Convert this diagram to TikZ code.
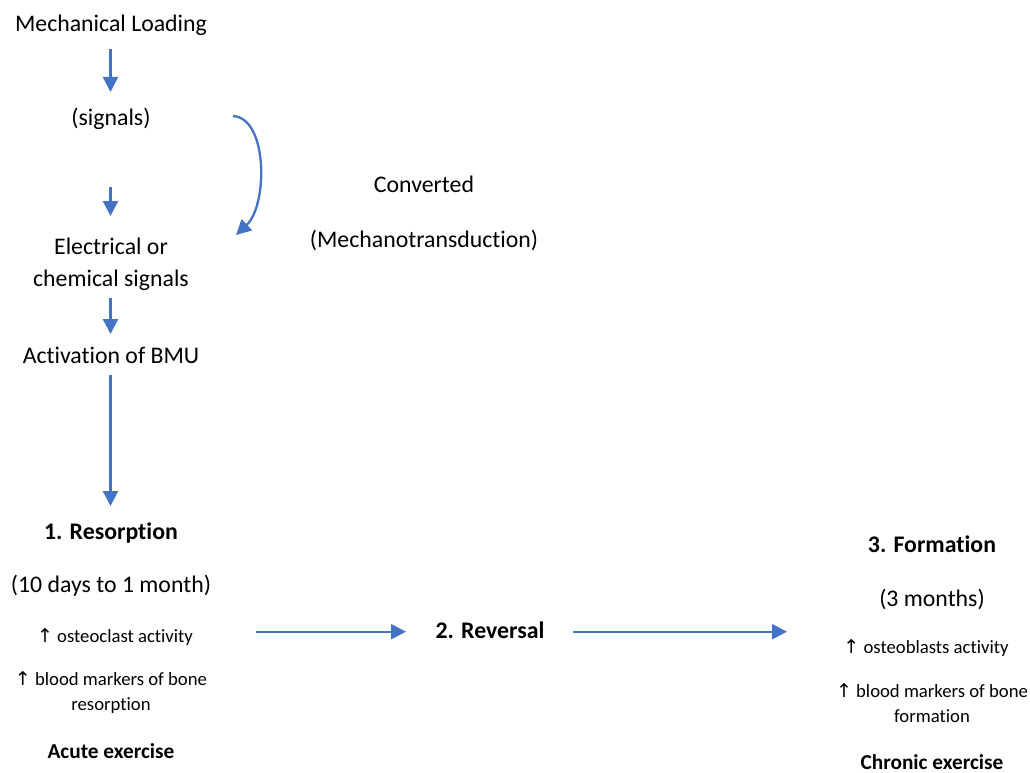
\documentclass[tikz,border=0pt]{standalone}
\usepackage{fontspec}
\setmainfont[Ligatures={NoCommon,NoRequired,NoContextual}]{Carlito}
\newfontfamily\symf{DejaVu Sans}
\usetikzlibrary{arrows.meta,calc}
\definecolor{arrowblue}{HTML}{4472C4}
\newcommand{\upar}{{\symf\fontsize{19}{19}\selectfont ↑}}
\tikzset{
  x=1pt, y=-1pt,
  txt/.style={inner sep=0pt, anchor=base, align=center, font=\fontsize{23.8}{32}\selectfont},
  bigbold/.style={txt, font=\fontsize{23.8}{32}\selectfont\bfseries},
  small/.style={txt, font=\fontsize{18.7}{25}\selectfont},
  smallbold/.style={txt, font=\fontsize{21.3}{26}\selectfont\bfseries},
  arr/.style={draw=arrowblue, line width=2.3pt, -{Triangle[length=15pt,width=15pt]}}
}
\begin{document}
\begin{tikzpicture}
\useasboundingbox (0,0) rectangle (1030,773);
% left column (multi-line nodes are anchored at their last line)
\node[txt] (ml) at (111,32) {Mechanical Loading};
\node[txt] (sig) at (111,126) {(signals)};
\node[txt] (elec) at (111,286) {Electrical or\\chemical signals};
\node[txt] (act) at (111,363) {Activation of BMU};
\node[bigbold] (res) at (111,539) {1. Resorption};
\node[txt] (rdur) at (111,592) {(10 days to 1 month)};
\node[small] (ost) at (115,642) {\upar{} osteoclast activity};
\node[small] (rbm) at (111,710) {\upar{} blood markers of bone\\resorption};
\node[smallbold] (acute) at (111,758) {Acute exercise};
% converted
\node[txt] (conv) at (424,192) {Converted};
\node[txt] (mech) at (424,247) {(Mechanotransduction)};
% reversal
\node[bigbold] (rev) at (490,638) {2. Reversal};
% formation column
\node[bigbold] (form) at (932,552) {3. Formation};
\node[txt] (fdur) at (932,606) {(3 months)};
\node[small] (fost) at (926,653) {\upar{} osteoblasts activity};
\node[small] (fbm) at (932,722) {\upar{} blood markers of bone\\formation};
\node[smallbold] (chronic) at (932,769) {Chronic exercise};
% vertical arrows
\draw[arr] ($(ml.base)+(-0.5,17)$) -- ($(sig.base)+(-0.5,-34)$);
\draw[arr] ($(sig.base)+(-0.5,61)$) -- ($(elec.base)+(-0.5,-70)$);
\draw[arr] ($(elec.base)+(-0.5,12)$) -- ($(act.base)+(-0.5,-29)$);
\draw[arr] ($(act.base)+(-0.5,12)$) -- ($(res.base)+(-0.5,-33)$);
% curved arrow
\draw[arr] ($(sig.base)+(122,-10)$) .. controls (268,118) and (268,205) .. ($(elec.base)+(125,-51)$);
% horizontal arrows
\draw[arr] ($(ost.base)+(141,-10.3)$) -- ($(rev.base)+(-84,-6.3)$);
\draw[arr] ($(rev.base)+(83,-6.3)$) -- ($(fost.base)+(-139,-21.3)$);
\end{tikzpicture}
\end{document}
